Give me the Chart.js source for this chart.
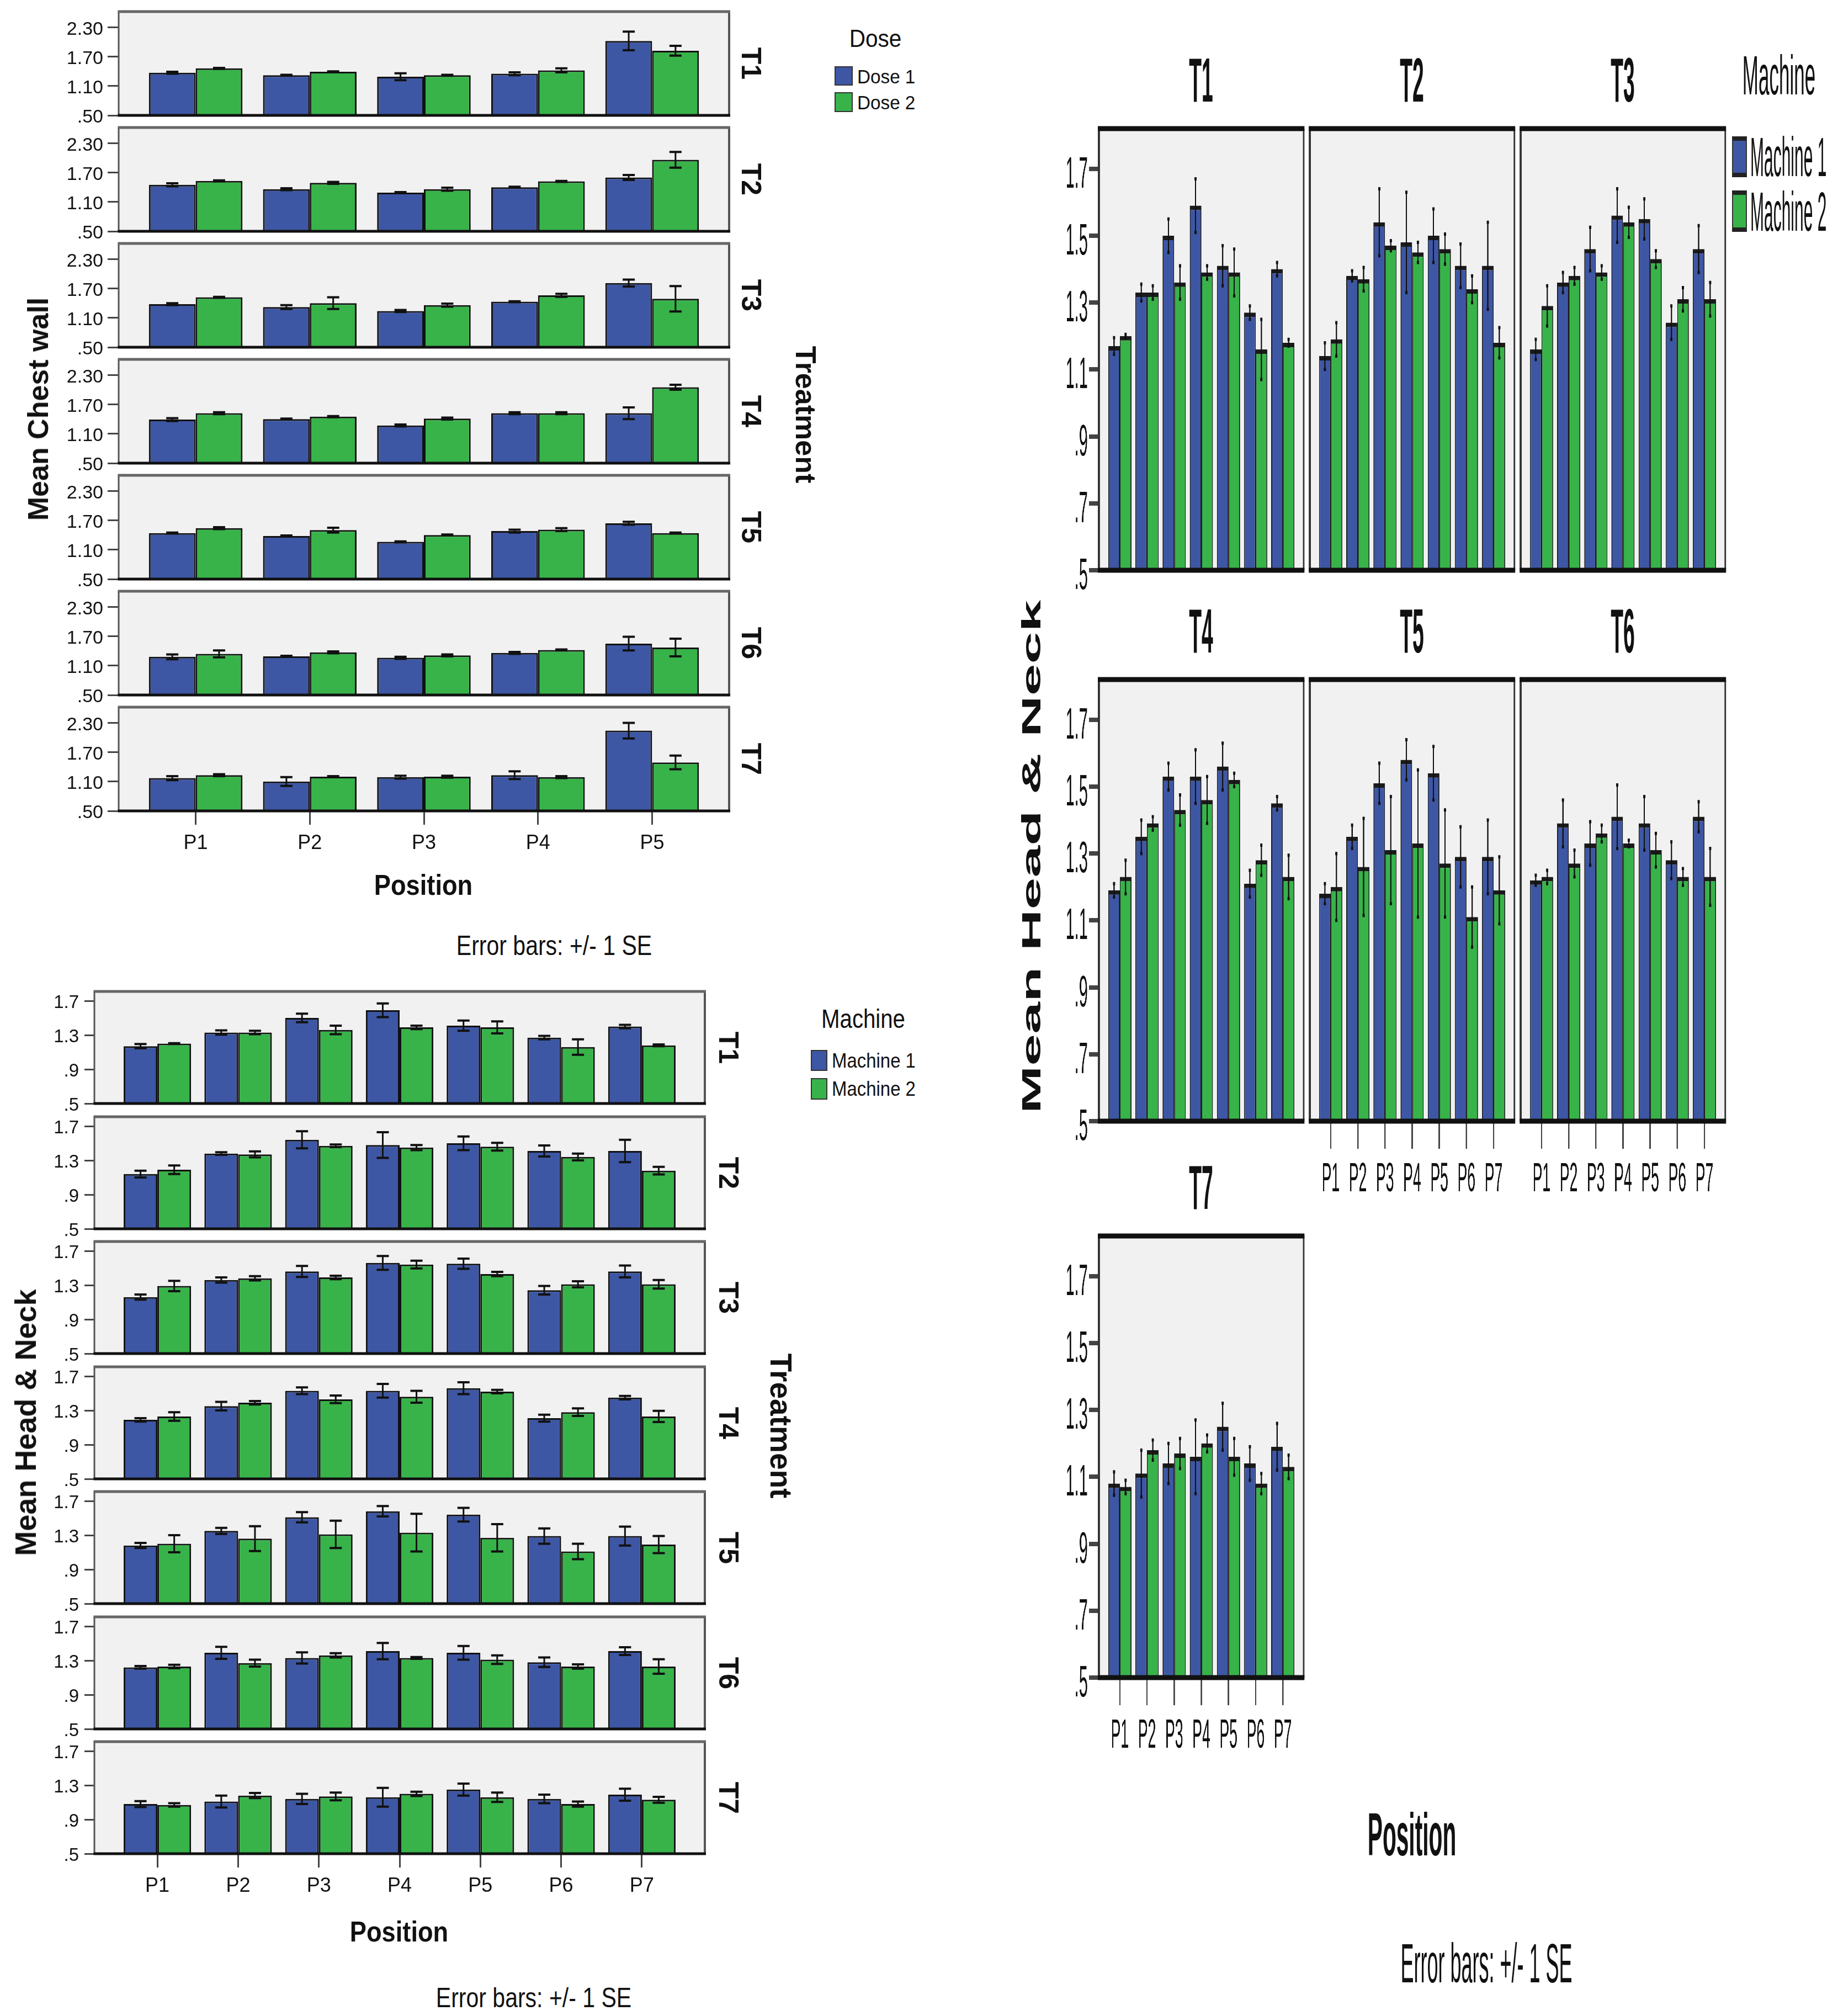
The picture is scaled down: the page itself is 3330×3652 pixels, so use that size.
<!DOCTYPE html>
<html>
<head>
<meta charset="utf-8">
<script src="https://cdn.jsdelivr.net/npm/chart.js@4.4.1/dist/chart.umd.min.js"></script>
<style>
  body { margin: 0; background: #fff; }
  #page { position: relative; width: 3330px; height: 3652px; overflow: hidden; font-family: "Liberation Sans", Arial, sans-serif; color: #111; }
  canvas { position: absolute; transform-origin: 0 0; }
  .t { position: absolute; white-space: nowrap; line-height: 1; }
  .sw { position: absolute; box-sizing: border-box; }
</style>
</head>
<body>
<div id="page"></div>
<script>
// ---- data ----
const treatments = ["T1", "T2", "T3", "T4", "T5", "T6", "T7"];
const chestPositions = ["P1", "P2", "P3", "P4", "P5"];
const headPositions = ["P1", "P2", "P3", "P4", "P5", "P6", "P7"];

const chestTicks = [0.5, 1.1, 1.7, 2.3];
const chestTickLabels = [".50", "1.10", "1.70", "2.30"];
const headTicksLeft = [0.5, 0.9, 1.3, 1.7];
const headTickLabelsLeft = [".5", ".9", "1.3", "1.7"];
const headTicksRight = [0.5, 0.7, 0.9, 1.1, 1.3, 1.5, 1.7];
const headTickLabelsRight = [".5", ".7", ".9", "1.1", "1.3", "1.5", "1.7"];

// Mean Chest wall, rows T1..T7, columns P1..P5
const chestDose1 = [
  [1.37, 1.32, 1.29, 1.35, 2.02],
  [1.45, 1.36, 1.29, 1.40, 1.60],
  [1.38, 1.32, 1.24, 1.43, 1.81],
  [1.39, 1.40, 1.27, 1.52, 1.52],
  [1.44, 1.38, 1.26, 1.48, 1.64],
  [1.28, 1.29, 1.26, 1.36, 1.55],
  [1.17, 1.10, 1.19, 1.23, 2.14]
];
const chestDose2 = [
  [1.46, 1.39, 1.32, 1.42, 1.82],
  [1.53, 1.49, 1.36, 1.52, 1.96],
  [1.52, 1.40, 1.36, 1.56, 1.49],
  [1.52, 1.45, 1.41, 1.52, 2.05],
  [1.54, 1.50, 1.40, 1.51, 1.44],
  [1.34, 1.37, 1.31, 1.42, 1.47],
  [1.23, 1.20, 1.20, 1.19, 1.49]
];
const chestDose1SE = [
  [0.02, 0.01, 0.07, 0.03, 0.19],
  [0.03, 0.02, 0.01, 0.01, 0.05],
  [0.02, 0.04, 0.02, 0.01, 0.07],
  [0.03, 0.01, 0.02, 0.02, 0.12],
  [0.01, 0.01, 0.01, 0.03, 0.03],
  [0.05, 0.01, 0.02, 0.02, 0.14],
  [0.04, 0.09, 0.03, 0.08, 0.16]
];
const chestDose2SE = [
  [0.01, 0.01, 0.01, 0.04, 0.10],
  [0.01, 0.02, 0.03, 0.01, 0.16],
  [0.01, 0.12, 0.03, 0.03, 0.26],
  [0.02, 0.01, 0.02, 0.02, 0.05],
  [0.02, 0.05, 0.01, 0.03, 0.01],
  [0.07, 0.02, 0.02, 0.01, 0.18],
  [0.02, 0.01, 0.02, 0.02, 0.14]
];

// Mean Head & Neck, rows T1..T7, columns P1..P7
const headMachine1 = [
  [1.17, 1.33, 1.50, 1.59, 1.41, 1.27, 1.40],
  [1.14, 1.38, 1.54, 1.48, 1.50, 1.41, 1.41],
  [1.16, 1.36, 1.46, 1.56, 1.55, 1.24, 1.46],
  [1.19, 1.35, 1.53, 1.53, 1.56, 1.21, 1.45],
  [1.18, 1.35, 1.51, 1.58, 1.54, 1.29, 1.29],
  [1.22, 1.39, 1.33, 1.41, 1.39, 1.28, 1.41],
  [1.08, 1.11, 1.14, 1.16, 1.25, 1.14, 1.19]
];
const headMachine2 = [
  [1.20, 1.33, 1.36, 1.39, 1.39, 1.16, 1.18],
  [1.19, 1.37, 1.47, 1.45, 1.46, 1.34, 1.18],
  [1.29, 1.38, 1.39, 1.54, 1.43, 1.31, 1.31],
  [1.23, 1.39, 1.43, 1.46, 1.52, 1.28, 1.23],
  [1.20, 1.26, 1.31, 1.33, 1.27, 1.11, 1.19],
  [1.23, 1.27, 1.36, 1.33, 1.31, 1.23, 1.23],
  [1.07, 1.18, 1.17, 1.20, 1.16, 1.08, 1.13]
];
const headMachine1SE = [
  [0.025, 0.025, 0.05, 0.08, 0.06, 0.02, 0.02],
  [0.04, 0.015, 0.10, 0.15, 0.08, 0.065, 0.13],
  [0.03, 0.03, 0.065, 0.08, 0.06, 0.05, 0.07],
  [0.02, 0.05, 0.04, 0.08, 0.07, 0.04, 0.02],
  [0.03, 0.035, 0.06, 0.06, 0.08, 0.09, 0.11],
  [0.015, 0.07, 0.065, 0.095, 0.08, 0.055, 0.045],
  [0.035, 0.07, 0.06, 0.11, 0.07, 0.05, 0.07]
];
const headMachine2SE = [
  [0.005, 0.02, 0.05, 0.02, 0.07, 0.09, 0.01],
  [0.05, 0.035, 0.015, 0.03, 0.045, 0.04, 0.045],
  [0.06, 0.025, 0.02, 0.045, 0.025, 0.035, 0.05],
  [0.05, 0.02, 0.045, 0.07, 0.02, 0.045, 0.065],
  [0.10, 0.145, 0.16, 0.22, 0.16, 0.09, 0.10],
  [0.02, 0.04, 0.025, 0.01, 0.05, 0.025, 0.085],
  [0.02, 0.03, 0.045, 0.025, 0.055, 0.03, 0.035]
];

// ---- drawing ----
const BLUE = "#3e57a4";
const GREEN = "#38b34a";
const FONT = "'Liberation Sans', Arial, sans-serif";
const page = document.getElementById("page");

// grey plot area + border, drawn round every small chart
const framePlugin = {
  id: "frame",
  beforeDraw(chart, args, o) {
    const a = chart.chartArea, c = chart.ctx;
    c.save();
    c.fillStyle = o.bg;
    c.fillRect(a.left, a.top, a.right - a.left, a.bottom - a.top);
    c.restore();
  },
  afterDraw(chart, args, o) {
    const a = chart.chartArea, c = chart.ctx;
    const line = (x1, y1, x2, y2, w, col) => {
      c.beginPath();
      c.lineWidth = w;
      c.strokeStyle = col;
      c.moveTo(x1, y1);
      c.lineTo(x2, y2);
      c.stroke();
    };
    c.save();
    line(a.left, a.top, a.left, a.bottom, o.leftW, o.sideColor);
    line(a.right, a.top, a.right, a.bottom, o.rightW, o.sideColor);
    line(a.left - o.leftW / 2, a.top, a.right + o.rightW / 2, a.top, o.topW, o.topColor);
    line(a.left - o.leftW / 2, a.bottom, a.right + o.rightW / 2, a.bottom, o.bottomW, "#111");
    c.restore();
  }
};

// +/- 1 SE whiskers, read from each dataset's err array
const errorPlugin = {
  id: "errbars",
  afterDatasetsDraw(chart, args, o) {
    const c = chart.ctx, y = chart.scales.y;
    c.save();
    c.strokeStyle = o.color;
    chart.data.datasets.forEach((ds, d) => {
      chart.getDatasetMeta(d).data.forEach((bar, i) => {
        const v = ds.data[i].y, e = ds.err[i];
        const top = y.getPixelForValue(v + e), bot = y.getPixelForValue(v - e);
        c.beginPath();
        c.lineWidth = o.width;
        c.moveTo(bar.x, top);
        c.lineTo(bar.x, bot);
        c.stroke();
        c.beginPath();
        c.lineWidth = o.capH;
        c.moveTo(bar.x - o.cap / 2, top);
        c.lineTo(bar.x + o.cap / 2, top);
        c.moveTo(bar.x - o.cap / 2, bot);
        c.lineTo(bar.x + o.cap / 2, bot);
        c.stroke();
      });
    });
    c.restore();
  }
};

function panel(o) {
  const st = o.style;
  const sx = st.sx;
  const cv = document.createElement("canvas");
  const W = Math.round((o.yW + o.frameW + st.padR) / sx);
  const H = st.padTop + o.frameH + o.xH;
  cv.width = W;
  cv.height = H;
  cv.style.width = W + "px";
  cv.style.height = H + "px";
  cv.style.left = (o.frameLeft - o.yW) + "px";
  cv.style.top = (o.frameTop - st.padTop) + "px";
  cv.style.transform = "scaleX(" + sx + ")";
  page.appendChild(cv);
  const n = o.labels.length;

  new Chart(cv, {
    type: "bar",
    data: {
      datasets: o.series.map(s => ({
        label: s.name,
        data: o.labels.map((p, i) => ({ x: i + 1, y: s.values[i] })),
        err: s.se,
        base: o.yMin,
        backgroundColor: s.color,
        borderColor: st.barBorder,
        borderWidth: st.barBorderWidth,
        borderSkipped: "bottom",
        categoryPercentage: st.catPct,
        barPercentage: 1
      }))
    },
    options: {
      responsive: false,
      animation: false,
      devicePixelRatio: 1,
      layout: { padding: { top: st.padTop, right: st.padR / sx, left: 0, bottom: 0 } },
      plugins: {
        legend: { display: false },
        tooltip: { enabled: false },
        frame: st.frame,
        errbars: st.err
      },
      scales: {
        x: {
          type: "linear",
          min: 1 - st.xEdge,
          max: n + st.xEdge,
          offset: false,
          afterBuildTicks: s => { s.ticks = o.labels.map((l, i) => ({ value: i + 1 })); },
          afterFit: s => { s.height = o.xH; s.paddingLeft = 0; s.paddingRight = 0; },
          ticks: {
            display: o.showX,
            autoSkip: false,
            maxRotation: 0,
            callback: v => o.labels[Math.round(v) - 1],
            font: { family: FONT, size: st.xFont },
            color: "#111",
            padding: st.xPad
          },
          grid: {
            display: o.showX,
            offset: false,
            drawOnChartArea: false,
            drawTicks: true,
            tickLength: st.xTickLen,
            color: st.tickColor,
            lineWidth: st.xTickW
          },
          border: { display: false }
        },
        y: {
          min: o.yMin,
          max: o.yMax,
          afterBuildTicks: s => { s.ticks = o.yTicks.map(v => ({ value: v })); },
          afterFit: s => { s.width = o.yW / sx; s.paddingTop = 0; s.paddingBottom = 0; },
          ticks: {
            display: o.showY,
            callback: (v, i) => o.yTickLabels[i],
            font: { family: FONT, size: st.yFont },
            color: "#111",
            padding: st.yPad,
            labelOffset: st.yLabelOffset
          },
          grid: {
            display: o.showY,
            drawOnChartArea: false,
            drawTicks: true,
            tickLength: st.yTickLen,
            color: st.tickColor,
            lineWidth: st.yTickW
          },
          border: { display: false }
        }
      }
    },
    plugins: [framePlugin, errorPlugin]
  });
}

function text(str, cx, cy, size, opt) {
  opt = opt || {};
  const d = document.createElement("div");
  d.className = "t";
  d.textContent = str;
  d.style.left = cx + "px";
  d.style.top = cy + "px";
  d.style.fontSize = size + "px";
  d.style.fontWeight = opt.bold ? "bold" : "normal";
  if (opt.left) {
    d.style.transformOrigin = "0 50%";
    d.style.transform = "translate(0,-50%) scaleX(" + (opt.sx || 1) + ")";
  } else {
    d.style.transform = "translate(-50%,-50%) scaleX(" + (opt.sx || 1) + ") rotate(" + (opt.rot || 0) + "deg)";
  }
  page.appendChild(d);
}

function swatch(x, y, w, h, color, heavy) {
  const d = document.createElement("div");
  d.className = "sw";
  d.style.left = x + "px";
  d.style.top = y + "px";
  d.style.width = w + "px";
  d.style.height = h + "px";
  d.style.background = color;
  d.style.border = "2px solid #333";
  if (heavy) {
    d.style.borderTop = "8px solid #222";
    d.style.borderBottom = "8px solid #222";
  }
  page.appendChild(d);
}

const leftFrame = { bg: "#f1f1f1", sideColor: "#555", topColor: "#666", leftW: 3, rightW: 4, topW: 5, bottomW: 5 };

const chestStyle = {
  sx: 1, padTop: 16, padR: 8, catPct: 0.82, xEdge: 0.675,
  barBorder: "#111", barBorderWidth: 3,
  xFont: 36, xPad: 12, xTickLen: 25, xTickW: 3,
  yFont: 34, yPad: 8, yTickLen: 20, yTickW: 3, yLabelOffset: 4, tickColor: "#444",
  frame: leftFrame,
  err: { color: "#111", width: 3, cap: 22, capH: 4 }
};
const headLeftStyle = Object.assign({}, chestStyle, {
  catPct: 0.835, xEdge: 0.78, yFont: 33, yPad: 10, yTickLen: 18
});
const headRightStyle = {
  sx: 0.36, padTop: 12, padR: 6, catPct: 0.85, xEdge: 0.77,
  barBorder: "#1a1a1a", barBorderWidth: { top: 8, left: 4, right: 4, bottom: 0 },
  xFont: 74, xPad: 12, xTickLen: 50, xTickW: 7,
  yFont: 80, yPad: 6, yTickLen: 50, yTickW: 8, yLabelOffset: 12, tickColor: "#444",
  frame: { bg: "#f1f1f1", sideColor: "#333", topColor: "#111", leftW: 10, rightW: 8, topW: 9, bottomW: 9 },
  err: { color: "#111", width: 6, cap: 11, capH: 6 }
};

// top left: Mean Chest wall by Dose
treatments.forEach((t, i) => {
  const top = 21 + i * 210;
  const last = i === treatments.length - 1;
  panel({
    style: chestStyle, frameLeft: 215, frameTop: top, frameW: 1106, frameH: 188, yW: 215,
    xH: last ? 85 : 26, showX: last, showY: true,
    labels: chestPositions, yMin: 0.5, yMax: 2.62, yTicks: chestTicks, yTickLabels: chestTickLabels,
    series: [
      { name: "Dose 1", values: chestDose1[i], se: chestDose1SE[i], color: BLUE },
      { name: "Dose 2", values: chestDose2[i], se: chestDose2SE[i], color: GREEN }
    ]
  });
  text(t, 1361, top + 94, 50, { bold: true, rot: 90 });
});
text("Mean Chest wall", 69, 741, 52, { bold: true, rot: -90 });
text("Treatment", 1460, 751, 52, { bold: true, rot: 90 });
text("Dose", 1586, 69, 45, { sx: 0.9 });
swatch(1512, 120, 33, 35, BLUE);
swatch(1512, 167, 33, 36, GREEN);
text("Dose 1", 1553, 138, 35, { left: true, sx: 0.95 });
text("Dose 2", 1553, 185, 35, { left: true, sx: 0.95 });
text("Position", 767, 1603, 52, { bold: true, sx: 0.87 });
text("Error bars: +/- 1 SE", 1004, 1713, 50, { sx: 0.82 });

// bottom left: Mean Head & Neck by Machine
treatments.forEach((t, i) => {
  const top = Math.round(1796 + i * 226.5);
  const last = i === treatments.length - 1;
  panel({
    style: headLeftStyle, frameLeft: 171, frameTop: top, frameW: 1106, frameH: 203, yW: 171,
    xH: last ? 85 : 26, showX: last, showY: true,
    labels: headPositions, yMin: 0.5, yMax: 1.81, yTicks: headTicksLeft, yTickLabels: headTickLabelsLeft,
    series: [
      { name: "Machine 1", values: headMachine1[i], se: headMachine1SE[i], color: BLUE },
      { name: "Machine 2", values: headMachine2[i], se: headMachine2SE[i], color: GREEN }
    ]
  });
  text(t, 1320, top + 102, 50, { bold: true, rot: 90 });
});
text("Mean Head & Neck", 46, 2577, 54, { bold: true, rot: -90 });
text("Treatment", 1414, 2583, 55, { bold: true, rot: 90 });
text("Machine", 1564, 1845, 49, { sx: 0.82 });
swatch(1469, 1902, 30, 38, BLUE);
swatch(1469, 1953, 30, 39, GREEN);
text("Machine 1", 1507, 1921, 37, { left: true, sx: 0.89 });
text("Machine 2", 1507, 1972, 37, { left: true, sx: 0.89 });
text("Position", 723, 3499, 52, { bold: true, sx: 0.87 });
text("Error bars: +/- 1 SE", 967, 3619, 50, { sx: 0.82 });

// right: the same Head & Neck data as a 3-column grid
const rowTops = [233, 1231, 2239];
treatments.forEach((t, i) => {
  const col = i % 3, row = Math.floor(i / 3);
  const left = 1991 + col * 382;
  const top = rowTops[row];
  const showX = i >= 4;
  panel({
    style: headRightStyle, frameLeft: left, frameTop: top, frameW: 371, frameH: 800,
    yW: col === 0 ? 91 : 8, xH: showX ? 140 : 50, showX: showX, showY: col === 0,
    labels: headPositions, yMin: 0.5, yMax: 1.82, yTicks: headTicksRight, yTickLabels: headTickLabelsRight,
    series: [
      { name: "Machine 1", values: headMachine1[i], se: headMachine1SE[i], color: BLUE },
      { name: "Machine 2", values: headMachine2[i], se: headMachine2SE[i], color: GREEN }
    ]
  });
  text(t, left + 185, top - 88, 113, { bold: true, sx: 0.33 });
});
text("Machine", 3223, 136, 100, { sx: 0.35 });
swatch(3138, 247, 27, 74, BLUE, true);
swatch(3138, 345, 27, 75, GREEN, true);
text("Machine 1", 3171, 284, 100, { left: true, sx: 0.3 });
text("Machine 2", 3171, 383, 100, { left: true, sx: 0.3 });
text("Mean Head & Neck", 1868, 1552, 104, { bold: true, rot: -90, sx: 0.46 });
text("Position", 2558, 3323, 110, { bold: true, sx: 0.37 });
text("Error bars: +/- 1 SE", 2693, 3556, 100, { sx: 0.36 });
</script>
</body>
</html>
